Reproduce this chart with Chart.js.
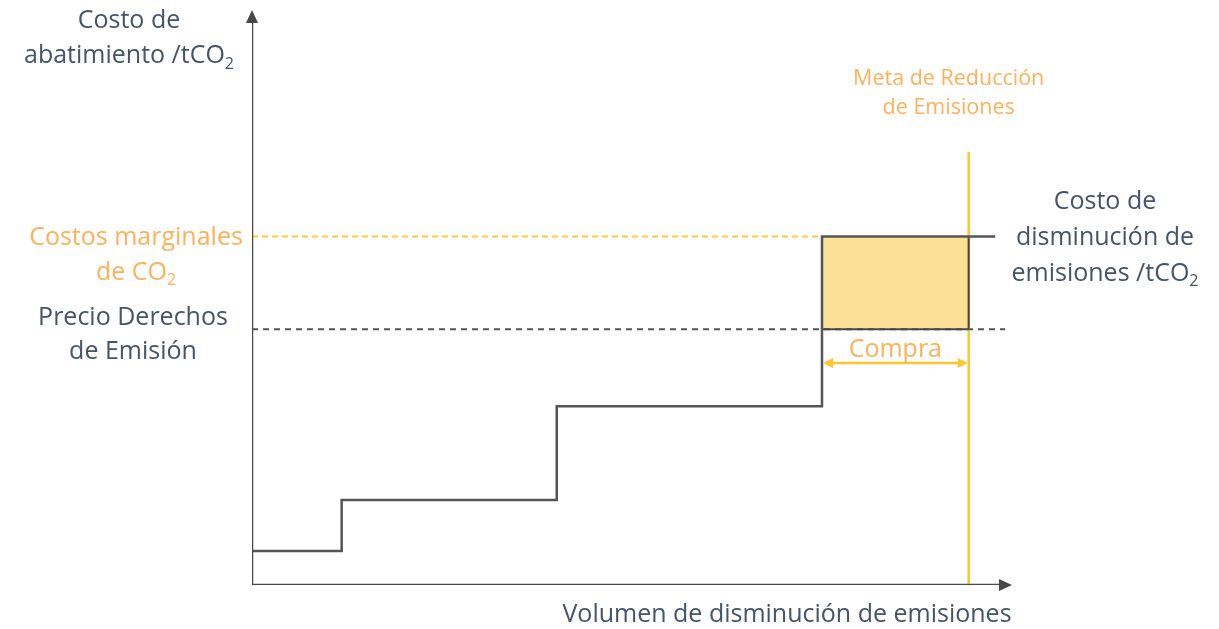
<!DOCTYPE html>
<html>
<head>
<meta charset="utf-8">
<script src="https://cdn.jsdelivr.net/npm/chart.js@4.4.0/dist/chart.umd.min.js"></script>
<style>
html, body { margin: 0; padding: 0; background: #fff; }
#wrap { width: 1219px; height: 629px; }
</style>
</head>
<body>
<div id="wrap"><canvas id="macChart"></canvas></div>
<script>
/* Data START */
// abatement cost curve: volume (x) and cost per tCO2 (y), schematic units 0-100
var stepVolumes = [0, 11.8, 40.1, 75, 97.8];
var stepCosts = [5.9, 14.8, 31.1, 60.6, 60.6];
var marginalCost = 60.6;     // costos marginales de CO2
var permitPrice = 44.5;      // precio derechos de emision
var reductionTarget = 94.3;  // meta de reduccion
var targetLineTop = 75.3;
var purchaseLevel = 38.6;
var priceLineEnd = 99.1;

var yAxisTitle = ['Costo de', 'abatimiento /tCO_2'];
var xAxisTitle = ['Volumen de disminución de emisiones'];
var marginalLabel = ['Costos marginales', 'de CO_2'];
var priceLabel = ['Precio Derechos', 'de Emisión'];
var curveLabel = ['Costo de', 'disminución de', 'emisiones /tCO_2'];
var targetLabel = ['Meta de Reducción', 'de Emisiones'];
var purchaseLabel = ['Compra'];
/* Data END */

var darkText = '#44546a';
var orangeText = '#ffb15a';
var gold = '#ffc62c';
var lineGray = '#484848';

function pts(xs, ys) {
    return xs.map((x, i) => ({x: x, y: ys[i]}));
}

// draws text where "_2" becomes a subscript
function drawRichText(ctx, text, cx, baseline, size, color) {
    var parts = text.split('_');
    var main = parts[0];
    var sub = parts.length > 1 ? parts[1] : '';
    ctx.font = size + 'px "Open Sans"';
    var w1 = ctx.measureText(main).width;
    ctx.font = Math.round(size * 0.65) + 'px "Open Sans"';
    var w2 = sub ? ctx.measureText(sub).width : 0;
    var start = cx - (w1 + w2) / 2;
    ctx.fillStyle = color;
    ctx.textAlign = 'left';
    ctx.textBaseline = 'alphabetic';
    ctx.font = size + 'px "Open Sans"';
    ctx.fillText(main, start, baseline);
    if (sub) {
        ctx.font = Math.round(size * 0.65) + 'px "Open Sans"';
        ctx.fillText(sub, start + w1, baseline + size * 0.22);
    }
}

function drawLines(ctx, lines, cx, firstBaseline, lineHeight, size, color) {
    lines.forEach((t, i) => drawRichText(ctx, t, cx, firstBaseline + i * lineHeight, size, color));
}

function arrowHead(ctx, tipX, tipY, dx, dy, len, half, color) {
    ctx.beginPath();
    ctx.moveTo(tipX, tipY);
    ctx.lineTo(tipX - dx * len - dy * half, tipY - dy * len + dx * half);
    ctx.lineTo(tipX - dx * len + dy * half, tipY - dy * len - dx * half);
    ctx.closePath();
    ctx.fillStyle = color;
    ctx.fill();
}

var annotationsPlugin = {
    id: 'annotations',
    afterDatasetsDraw(chart) {
        var ctx = chart.ctx;
        var xs = chart.scales.x;
        var ys = chart.scales.y;
        var x0 = xs.getPixelForValue(0);
        var y0 = ys.getPixelForValue(0);
        ctx.save();
        // axis arrows
        arrowHead(ctx, x0, ys.getPixelForValue(100), 0, -1, 13, 6, lineGray);
        arrowHead(ctx, xs.getPixelForValue(100), y0, 1, 0, 13, 6, lineGray);
        // purchase double arrow
        var py = ys.getPixelForValue(purchaseLevel);
        arrowHead(ctx, xs.getPixelForValue(stepVolumes[3]) + 1, py, -1, 0, 10, 5, gold);
        arrowHead(ctx, xs.getPixelForValue(reductionTarget) - 1, py, 1, 0, 10, 5, gold);

        // texts
        var ym = ys.getPixelForValue(marginalCost);
        var yp = ys.getPixelForValue(permitPrice);
        drawLines(ctx, yAxisTitle, x0 - 123, 28, 35, 25, darkText);
        drawLines(ctx, marginalLabel, x0 - 116, ym + 8, 35, 25, orangeText);
        drawLines(ctx, priceLabel, x0 - 119, yp - 4, 34, 25, darkText);
        drawLines(ctx, curveLabel, 1105, ym - 28, 36, 25, darkText);
        drawLines(ctx, targetLabel, xs.getPixelForValue(reductionTarget) - 20, 85, 29, 21.5, orangeText);
        drawLines(ctx, purchaseLabel, xs.getPixelForValue((stepVolumes[3] + reductionTarget) / 2), py - 6, 30, 25, orangeText);
        drawLines(ctx, xAxisTitle, 787, 622, 30, 25, darkText);
        ctx.restore();
    }
};

var lineDefaults = {
    pointRadius: 0,
    pointHoverRadius: 0,
    fill: false,
    tension: 0
};

var datasets = [
    // 0,1: purchase rectangle fill
    Object.assign({}, lineDefaults, {
        data: pts([stepVolumes[3], reductionTarget], [marginalCost, marginalCost]),
        borderWidth: 0, borderColor: 'rgba(0,0,0,0)',
        backgroundColor: '#fae197', fill: '+1', order: 9
    }),
    Object.assign({}, lineDefaults, {
        data: pts([stepVolumes[3], reductionTarget], [permitPrice, permitPrice]),
        borderWidth: 0, borderColor: 'rgba(0,0,0,0)', order: 9
    }),
    // 2: price dashed line
    Object.assign({}, lineDefaults, {
        data: pts([0, priceLineEnd], [permitPrice, permitPrice]),
        borderColor: '#555555', borderWidth: 2, borderDash: [6, 5], order: 8
    }),
    // 3: marginal cost dashed line
    Object.assign({}, lineDefaults, {
        data: pts([0, stepVolumes[3]], [marginalCost, marginalCost]),
        borderColor: '#fdc93a', borderWidth: 2, borderDash: [6, 4], order: 8
    }),
    // 4: target vertical line
    Object.assign({}, lineDefaults, {
        data: pts([reductionTarget, reductionTarget], [0, targetLineTop]),
        borderColor: gold, borderWidth: 2.5, order: 7
    }),
    // 5: purchase arrow shaft
    Object.assign({}, lineDefaults, {
        data: pts([stepVolumes[3] + 0.5, reductionTarget - 0.5], [purchaseLevel, purchaseLevel]),
        borderColor: gold, borderWidth: 2.5, order: 6
    }),
    // 6: rectangle bottom and right edges
    Object.assign({}, lineDefaults, {
        data: pts([stepVolumes[3], reductionTarget, reductionTarget], [permitPrice, permitPrice, marginalCost]),
        borderColor: lineGray, borderWidth: 2, order: 5
    }),
    // 7: abatement step curve
    Object.assign({}, lineDefaults, {
        data: pts(stepVolumes, stepCosts),
        stepped: true,
        borderColor: '#555555', borderWidth: 2.5, order: 2
    }),
    // 8,9: axes
    Object.assign({}, lineDefaults, {
        data: pts([0, 0], [0, 98]),
        borderColor: lineGray, borderWidth: 2.5, order: 1
    }),
    Object.assign({}, lineDefaults, {
        data: pts([0, 98.5], [0, 0]),
        borderColor: lineGray, borderWidth: 2.5, order: 1
    })
];

new Chart('macChart', {
    type: 'line',
    data: { datasets: datasets },
    options: {
        responsive: true,
        maintainAspectRatio: false,
        animation: false,
        layout: { padding: { left: 252, right: 207, top: 10, bottom: 44 } },
        scales: {
            x: { type: 'linear', min: 0, max: 100, display: false },
            y: { type: 'linear', min: 0, max: 100, display: false }
        },
        plugins: {
            legend: { display: false },
            tooltip: { enabled: false }
        },
        elements: { line: { capBezierPoints: false, borderCapStyle: 'butt' } }
    },
    plugins: [annotationsPlugin]
});
</script>
</body>
</html>
